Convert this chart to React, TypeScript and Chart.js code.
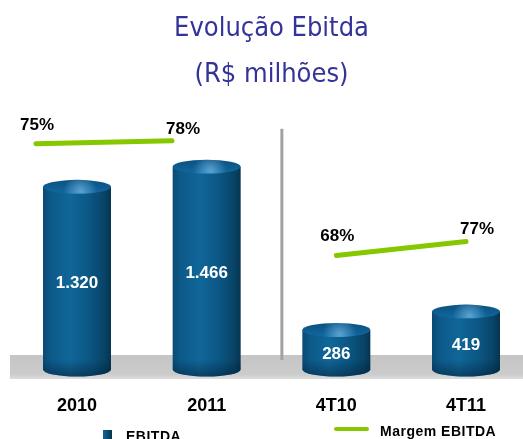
import React, { useEffect, useRef } from 'react';
import { Chart, registerables } from 'chart.js';

Chart.register(...registerables);

// ---- data ----
const categories = ['2010', '2011', '4T10', '4T11'];
const ebitda = [1320, 1466, 286, 419];
const margemAnual = [75, 78]; // 2010, 2011
const margemTrimestral = [68, 77]; // 4T10, 4T11
const titleLines = ['Evolução Ebitda', '(R$ milhões)'];
const legendLabels = ['EBITDA', 'Margem EBITDA'];

const GREEN = '#86c800';
const TITLE_COLOR = '#333399';
const LABEL_FONT = '"Liberation Sans", Arial, sans-serif';

const fmt = (v: number) => String(v).replace(/\B(?=(\d{3})+(?!\d))/g, '.');

function drawCylinder(ctx: CanvasRenderingContext2D, x: number, y: number, base: number, w: number) {
  const rx = w / 2;
  const ry = 7;
  const left = x - rx;
  const right = x + rx;
  const g = ctx.createLinearGradient(left, 0, right, 0);
  g.addColorStop(0, '#0a4a73');
  g.addColorStop(0.12, '#0c5a8a');
  g.addColorStop(0.4, '#106799');
  g.addColorStop(0.7, '#0b5582');
  g.addColorStop(0.9, '#084467');
  g.addColorStop(1, '#06344f');

  ctx.save();
  ctx.beginPath();
  ctx.moveTo(left, y);
  ctx.lineTo(left, base);
  ctx.ellipse(x, base, rx, ry, 0, Math.PI, 0, true);
  ctx.lineTo(right, y);
  ctx.closePath();
  ctx.fillStyle = g;
  ctx.fill();
  ctx.clip();
  const vg = ctx.createLinearGradient(0, base - 10, 0, base + ry);
  vg.addColorStop(0, 'rgba(0,20,40,0)');
  vg.addColorStop(1, 'rgba(0,20,40,0.45)');
  ctx.fillStyle = vg;
  ctx.fillRect(left, base - 10, w, ry + 12);
  ctx.restore();

  ctx.save();
  const tg = ctx.createLinearGradient(0, y - ry, 0, y + ry);
  tg.addColorStop(0, '#0b5180');
  tg.addColorStop(1, '#1268a0');
  ctx.beginPath();
  ctx.ellipse(x, y, rx, ry, 0, 0, Math.PI * 2);
  ctx.fillStyle = tg;
  ctx.fill();
  ctx.clip();
  const hg = ctx.createRadialGradient(x + rx * 0.1, y + ry * 0.6, 0, x + rx * 0.1, y + ry * 0.6, rx * 0.5);
  hg.addColorStop(0, 'rgba(120,190,235,0.7)');
  hg.addColorStop(1, 'rgba(120,190,235,0)');
  ctx.fillStyle = hg;
  ctx.fillRect(left, y - ry, w, 2 * ry);
  ctx.restore();
}

const decorPlugin = {
  id: 'decor',
  beforeDatasetsDraw(chart: any) {
    const { ctx, chartArea, scales } = chart;
    const B = chartArea.bottom;
    ctx.save();
    const g = ctx.createLinearGradient(0, B - 11, 0, B + 13);
    g.addColorStop(0, '#c5c5c5');
    g.addColorStop(0.8, '#cbcbcb');
    g.addColorStop(1, '#dddddd');
    ctx.fillStyle = g;
    ctx.fillRect(10, B - 11, chart.width - 10, 24);
    const x1 = scales.x.getPixelForValue(1);
    const x2 = scales.x.getPixelForValue(2);
    const dx = x1 + (x2 - x1) * 0.58;
    ctx.fillStyle = '#a2a2a2';
    ctx.fillRect(dx - 1.5, chartArea.top + 29, 3, B - 6 - (chartArea.top + 29));
    ctx.restore();
  },
  afterDatasetDraw(chart: any, args: any) {
    if (args.index !== 0) return;
    const { ctx } = chart;
    const meta = chart.getDatasetMeta(0);
    meta.data.forEach((el: any, i: number) => {
      const { x, y, base, width } = el.getProps(['x', 'y', 'base', 'width'], true);
      drawCylinder(ctx, x, y, base, width);
      ctx.save();
      ctx.font = `bold 17px ${LABEL_FONT}`;
      ctx.fillStyle = '#ffffff';
      ctx.textAlign = 'center';
      ctx.textBaseline = 'middle';
      ctx.fillText(fmt(ebitda[i]), x, (y + base) / 2 + 5);
      ctx.restore();
    });
  },
  afterDatasetsDraw(chart: any) {
    const { ctx } = chart;
    ctx.save();
    ctx.font = `bold 17px ${LABEL_FONT}`;
    ctx.fillStyle = '#000000';
    ctx.textAlign = 'center';
    ctx.textBaseline = 'middle';
    [1, 2].forEach((di) => {
      const vals = di === 1 ? margemAnual : margemTrimestral;
      const pts = chart.getDatasetMeta(di).data.filter((p: any) => !p.skip);
      pts.forEach((p: any, j: number) => {
        const dx = j === 0 ? 1 : 11;
        const dy = j === 0 ? -19 : -12;
        ctx.fillText(vals[j] + '%', p.x + dx, p.y + dy);
      });
    });
    ctx.restore();
  },
  afterDraw(chart: any) {
    const { ctx } = chart;
    ctx.save();
    const sg = ctx.createLinearGradient(103, 0, 112, 0);
    sg.addColorStop(0, '#106799');
    sg.addColorStop(1, '#06344f');
    ctx.fillStyle = sg;
    ctx.fillRect(103, 430, 9, 10);
    ctx.font = `bold 14px ${LABEL_FONT}`;
    (ctx as any).letterSpacing = '0.5px';
    ctx.fillStyle = '#000000';
    ctx.textAlign = 'left';
    ctx.textBaseline = 'alphabetic';
    ctx.fillText(legendLabels[0], 126, 441);
    ctx.strokeStyle = GREEN;
    ctx.lineWidth = 4;
    ctx.lineCap = 'round';
    ctx.beginPath();
    ctx.moveTo(336, 429);
    ctx.lineTo(367, 429);
    ctx.stroke();
    ctx.fillText(legendLabels[1], 380, 436);
    ctx.restore();
  },
};

export default function App() {
  const ref = useRef<HTMLCanvasElement>(null);
  useEffect(() => {
    const chart = new Chart(ref.current as HTMLCanvasElement, {
      type: 'bar',
      data: {
        labels: categories,
        datasets: [
          {
            type: 'bar',
            label: legendLabels[0],
            data: ebitda,
            backgroundColor: 'rgba(0,0,0,0)',
            borderWidth: 0,
            grouped: false,
            barThickness: 68,
            maxBarThickness: 68,
            xAxisID: 'x',
            yAxisID: 'y',
            clip: false,
            order: 2,
          } as any,
          {
            type: 'line',
            label: legendLabels[1],
            data: margemAnual.map((v, i) => ({ x: i, y: v })),
            xAxisID: 'xAnual',
            yAxisID: 'yAnual',
            borderColor: GREEN,
            borderWidth: 5,
            borderCapStyle: 'round',
            pointRadius: 0,
            clip: false,
            order: 1,
          } as any,
          {
            type: 'line',
            label: legendLabels[1],
            data: [null, null, ...margemTrimestral],
            xAxisID: 'x',
            yAxisID: 'yTri',
            borderColor: GREEN,
            borderWidth: 5,
            borderCapStyle: 'round',
            pointRadius: 0,
            clip: false,
            order: 1,
          } as any,
        ],
      },
      options: {
        responsive: false,
        animation: false,
        devicePixelRatio: 1,
        layout: { padding: { left: 77, right: 57, top: 0, bottom: 0 } },
        plugins: {
          legend: { display: false },
          tooltip: { enabled: false },
          title: {
            display: true,
            text: titleLines,
            color: TITLE_COLOR,
            font: { family: '"DejaVu Sans Condensed", "DejaVu Sans", sans-serif', size: 27, weight: 'normal', lineHeight: 1.7 },
            padding: { top: 6, bottom: 2 },
          },
        },
        scales: {
          x: {
            type: 'category',
            offset: false,
            grid: { display: false, drawTicks: false, offset: false },
            border: { display: false },
            ticks: {
              color: '#000000',
              font: { family: LABEL_FONT, size: 18, weight: 'bold' },
              padding: 29,
              maxRotation: 0,
              autoSkip: false,
            },
            afterFit: (scale: any) => {
              scale.height = 73;
            },
          },
          xAnual: {
            type: 'linear',
            display: false,
            offset: false,
            grid: { offset: false },
            bounds: 'data',
            min: 0.3015,
            max: 3.162,
          },
          y: { type: 'linear', display: false, min: 26, max: 1949 },
          yAnual: { type: 'linear', display: false, min: -147, max: 119 },
          yTri: { type: 'linear', display: false, min: -3, max: 168 },
        },
      } as any,
      plugins: [decorPlugin],
    });
    return () => chart.destroy();
  }, []);
  return (
    <div style={{ position: 'absolute', left: 0, top: 0, width: 523, height: 439 }}>
      <canvas ref={ref} width={523} height={439} style={{ display: 'block' }} />
    </div>
  );
}
